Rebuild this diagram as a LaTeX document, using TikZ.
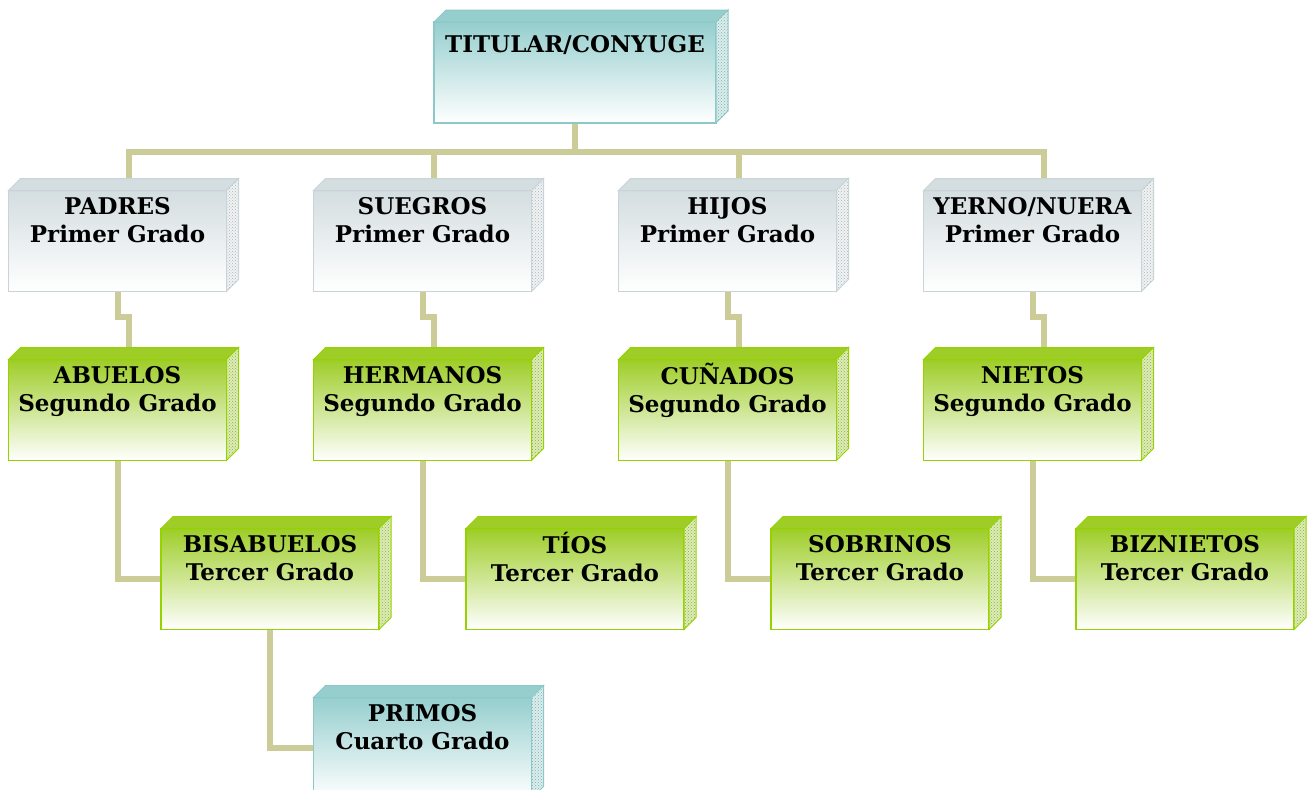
\documentclass[tikz,border=0pt]{standalone}
\usepackage{fontspec}
\setmainfont{DejaVu Serif}
\usetikzlibrary{backgrounds,patterns}

\definecolor{linea}{RGB}{204,204,153}
\definecolor{celeste}{RGB}{150,206,206}
\definecolor{celesteborde}{RGB}{140,200,200}
\definecolor{gris}{RGB}{212,221,224}
\definecolor{grisborde}{RGB}{200,212,216}
\definecolor{verde}{RGB}{158,205,40}
\definecolor{verdeborde}{RGB}{150,210,0}

\newcommand{\anchocaja}{218pt}
\newcommand{\aire}{4pt}

\tikzset{
  caja/.style={line width=1.8pt, outer sep=0pt, inner sep=0pt,
    draw=#1borde, top color=#1, middle color=#1!45!white, bottom color=white,
    font=\bfseries\fontsize{23}{28}\selectfont,
    execute at begin node={\begin{minipage}[c][101pt][t]{\anchocaja}\centering\vspace*{\aire}\strut},
    execute at end node={\end{minipage}}},
  principal/.code={\def\anchocaja{282pt}\def\aire{11pt}},
  tapa/.style={draw=#1borde, line width=1pt, fill=#1},
  lado/.style={draw=#1borde, line width=1pt, preaction={fill=#1!35!white},
    pattern=crosshatch dots, pattern color=#1!55!gray},
  conector/.style={draw=linea, line width=6pt, line join=miter}
}

\begin{document}
\begin{tikzpicture}[x=1pt,y=-1pt]
  \useasboundingbox (0,0) rectangle (1315,790);

  \def \Cajas {
    padres/117.5/241/gris/PADRES\\Primer Grado,
    suegros/422.5/241/gris/SUEGROS\\Primer Grado,
    hijos/727.5/241/gris/HIJOS\\Primer Grado,
    yerno/1032.5/241/gris/{YERNO/NUERA\\Primer Grado},
    abuelos/117.5/410/verde/ABUELOS\\Segundo Grado,
    hermanos/422.5/410/verde/HERMANOS\\Segundo Grado,
    cunados/727.5/410/verde/CUÑADOS\\Segundo Grado,
    nietos/1032.5/410/verde/NIETOS\\Segundo Grado,
    bisabuelos/270/579/verde/BISABUELOS\\Tercer Grado,
    tios/575/579/verde/TÍOS\\Tercer Grado,
    sobrinos/880/579/verde/SOBRINOS\\Tercer Grado,
    biznietos/1185/579/verde/BIZNIETOS\\Tercer Grado,
    primos/422.5/748/celeste/PRIMOS\\Cuarto Grado}

  \node[caja=celeste, principal] (titular) at (575,72.5) {TITULAR/CONYUGE};
  \foreach \id / \x / \y / \tono / \texto in \Cajas {
    \node[caja=\tono] (\id) at (\x, \y) {\texto};
  }

  % caras de arriba y del costado
  \foreach \id / \tono in {titular/celeste, padres/gris, suegros/gris, hijos/gris, yerno/gris,
      abuelos/verde, hermanos/verde, cunados/verde, nietos/verde,
      bisabuelos/verde, tios/verde, sobrinos/verde, biznietos/verde, primos/celeste} {
    \path[tapa=\tono] (\id.north west) -- ++(12,-12) -- ([shift={(12,-12)}]\id.north east)
      -- (\id.north east) -- cycle;
    \path[lado=\tono] (\id.north east) -- ++(12,-12) -- ([shift={(12,-12)}]\id.south east)
      -- (\id.south east) -- cycle;
  }

  \begin{scope}[on background layer]
    \draw[conector] (titular.south) -- ++(0,29) coordinate (barra);
    \foreach \id in {padres,suegros,hijos,yerno}
      \draw[conector] (barra) -| ([shift={(11,-12)}]\id.north);
    \foreach \a / \b in {padres/abuelos, suegros/hermanos, hijos/cunados, yerno/nietos}
      \draw[conector] (\a.south) -- ++(0,25) -| ([shift={(11,-12)}]\b.north);
    \foreach \a / \b in {abuelos/bisabuelos, hermanos/tios, cunados/sobrinos,
        nietos/biznietos, bisabuelos/primos}
      \draw[conector] (\a.south) |- (\b.west);
  \end{scope}
\end{tikzpicture}
\end{document}
